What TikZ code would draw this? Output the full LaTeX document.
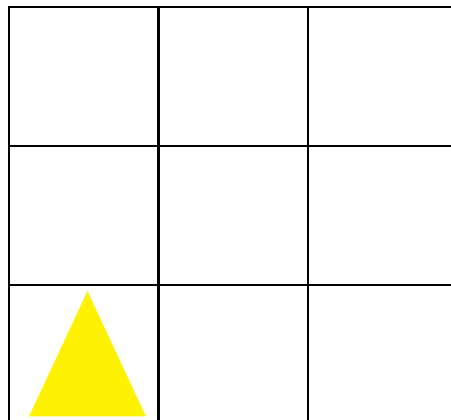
\documentclass[tikz,border=0pt]{standalone}
\usepackage{tikz}

\begin{document}
\begin{tikzpicture}[
  x=1pt, y=-1pt,
  gridline/.style={draw=black, line width=2.2pt},
  piece/.style={fill=yellow}
]
\useasboundingbox (0,0) rectangle (451,420);
\clip (0,0) rectangle (451,420);

% board
\draw[gridline] (9,440) -- (9,7) -- (470,7);
\foreach \gx in {158.5, 308} \draw[gridline] (\gx,7) -- (\gx,440);
\foreach \gy in {146, 285} \draw[gridline] (9,\gy) -- (470,\gy);

% yellow piece
\fill[piece] (87.5,291) -- (146,416.5) -- (29,416.5) -- cycle;
\end{tikzpicture}
\end{document}
